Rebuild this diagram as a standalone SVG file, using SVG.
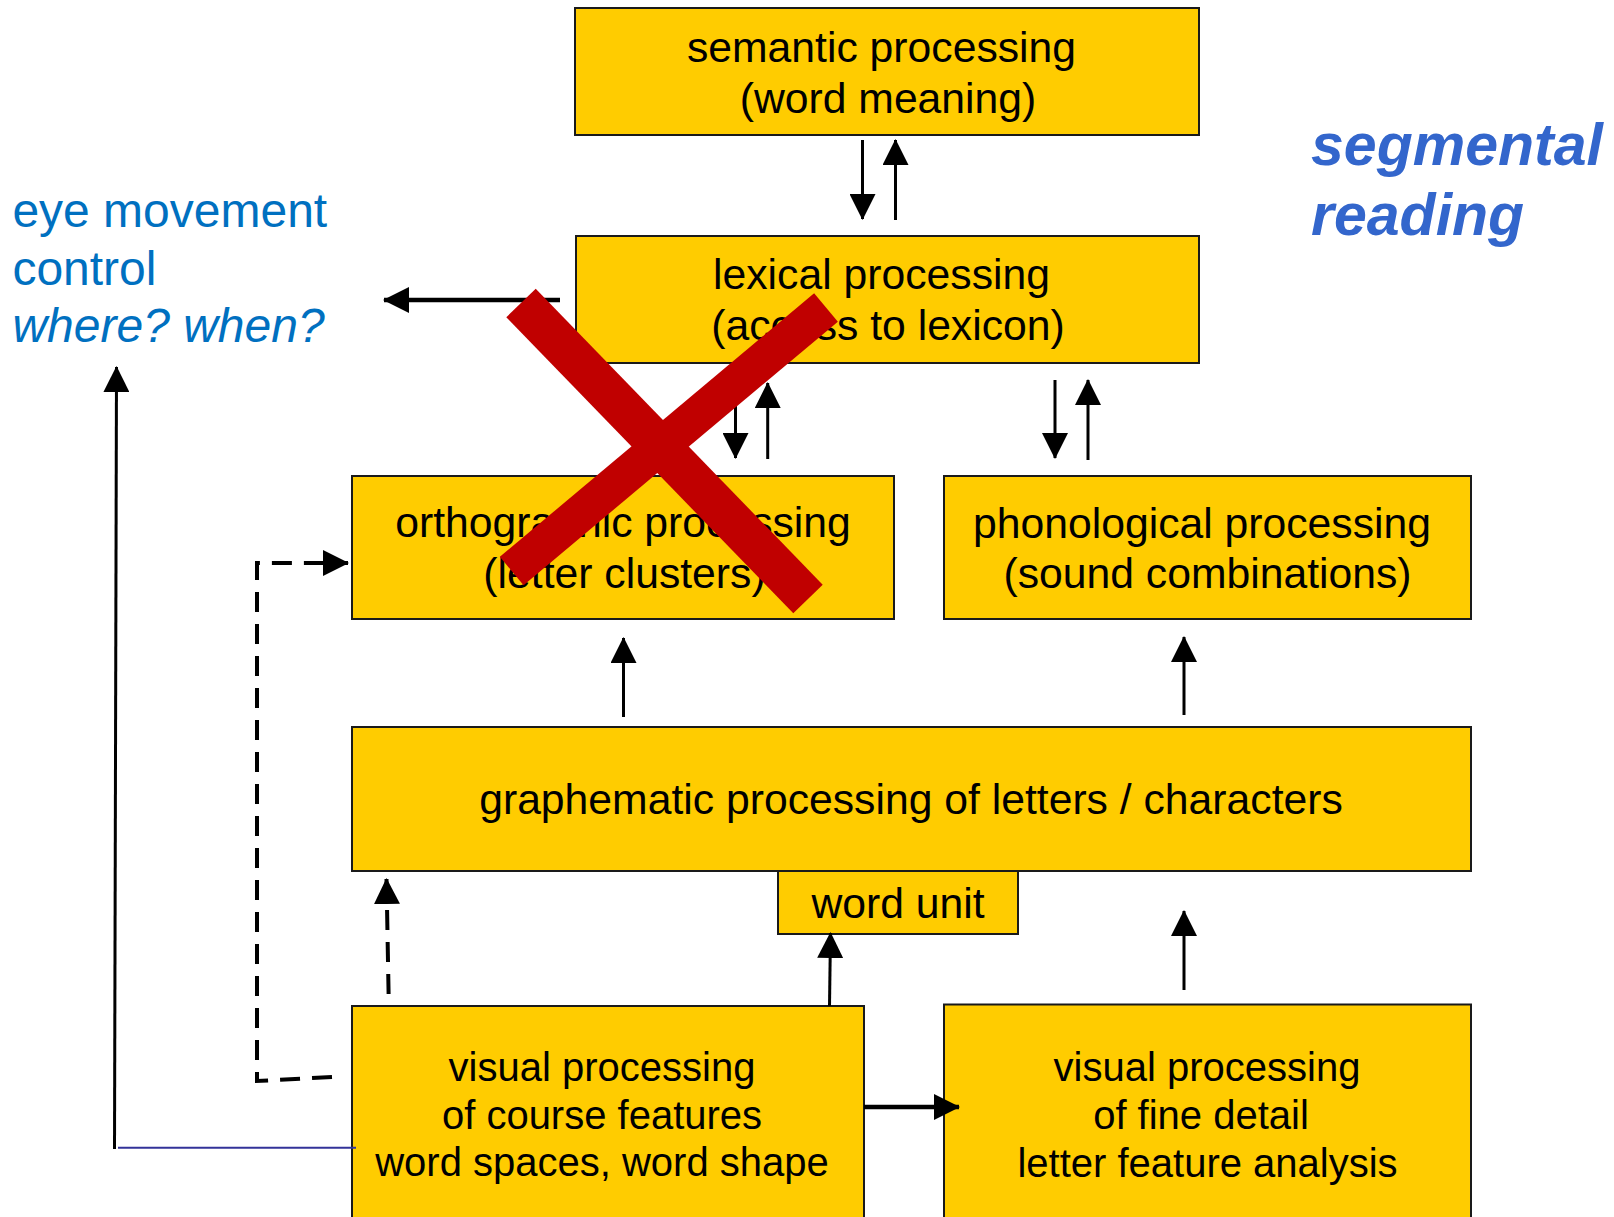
<svg xmlns="http://www.w3.org/2000/svg" width="1614" height="1217" viewBox="0 0 1614 1217">
<style>
.box{fill:#FFCC00;stroke:#1a1a1a;stroke-width:2}
.t{font-family:"Liberation Sans",Arial,sans-serif;font-size:42.7px;fill:#000;text-anchor:middle}
.v{font-size:40px}
.blue{font-family:"Liberation Sans",Arial,sans-serif;font-size:48px;fill:#0070C0}
.seg{font-family:"Liberation Sans",Arial,sans-serif;font-size:59px;font-weight:bold;font-style:italic;fill:#3366CC}
.c{fill:none;stroke:#000;stroke-width:3}
.thick{stroke-width:4.5}
.dash{stroke-width:4;stroke-dasharray:20 12}
.x{stroke:#C00000;fill:none}
</style>
<defs>
<marker id="ah" markerUnits="userSpaceOnUse" markerWidth="26" markerHeight="26" viewBox="0 0 26 26" refX="25" refY="13" orient="auto">
<path d="M0,0 L26,13 L0,26 Z" fill="#000"/>
</marker>
</defs>

<g id="semantic">
<rect class="box" x="575" y="8" width="624" height="127"/>
<text class="t" x="881.5" y="62">semantic processing</text>
<text class="t" x="888" y="113">(word meaning)</text>
</g>
<g id="lexical">
<rect class="box" x="576" y="236" width="623" height="127"/>
<text class="t" x="881.5" y="289">lexical processing</text>
<text class="t" x="888" y="340">(access to lexicon)</text>
</g>
<g id="orthographic">
<rect class="box" x="352" y="476" width="542" height="143"/>
<text class="t" x="623" y="537">orthographic processing</text>
<text class="t" x="624.5" y="588">(letter clusters)</text>
</g>
<g id="phonological">
<rect class="box" x="944" y="476" width="527" height="143"/>
<text class="t" x="1202" y="538">phonological processing</text>
<text class="t" x="1207.5" y="588">(sound combinations)</text>
</g>
<g id="graphematic">
<rect class="box" x="352" y="727" width="1119" height="144"/>
<text class="t" x="911" y="814">graphematic processing of letters / characters</text>
</g>
<g id="word-unit">
<rect class="box" x="778" y="871" width="240" height="63"/>
<text class="t" x="898" y="918">word unit</text>
</g>
<g id="visual-coarse">
<rect class="box" x="352" y="1006" width="512" height="230"/>
<text class="t v" x="602" y="1081">visual processing</text>
<text class="t v" x="602" y="1129">of course features</text>
<text class="t v" x="602" y="1176">word spaces, word shape</text>
</g>
<g id="visual-fine">
<rect class="box" x="944" y="1004.5" width="527" height="230"/>
<text class="t v" x="1207" y="1080.5">visual processing</text>
<text class="t v" x="1201" y="1129">of fine detail</text>
<text class="t v" x="1207.5" y="1177">letter feature analysis</text>
</g>

<g id="eye-movement-control">
<text class="blue" x="12.4" y="227">eye movement</text>
<text class="blue" x="12.4" y="285">control</text>
<text class="blue" x="12.4" y="342" font-style="italic">where? when?</text>
</g>
<g id="segmental-reading">
<text class="seg" x="1311" y="165">segmental</text>
<text class="seg" x="1311" y="235">reading</text>
</g>

<g id="connectors">
<path class="c" d="M862.5,140 V219" marker-end="url(#ah)"/>
<path class="c" d="M895.5,220 V140" marker-end="url(#ah)"/>
<path class="c thick" d="M560,300 H384" marker-end="url(#ah)"/>
<path class="c" d="M735.5,383 V458" marker-end="url(#ah)"/>
<path class="c" d="M767.7,459 V383" marker-end="url(#ah)"/>
<path class="c" d="M1055,380 V458" marker-end="url(#ah)"/>
<path class="c" d="M1088,460 V380" marker-end="url(#ah)"/>
<path class="c" d="M623.5,717 V638" marker-end="url(#ah)"/>
<path class="c" d="M1184,715 V637" marker-end="url(#ah)"/>
<path class="c" d="M1184,990 V911" marker-end="url(#ah)"/>
<path class="c" d="M829.5,1006 L830.5,933" marker-end="url(#ah)"/>
<path class="c thick" d="M864,1107 H959" marker-end="url(#ah)"/>
<path class="c dash" d="M332,1077 L257,1081 V563 H348" marker-end="url(#ah)"/>
<path class="c dash" d="M388.6,994 L386.5,879" marker-end="url(#ah)"/>
<path class="c" d="M114.5,1149 L116.5,367" marker-end="url(#ah)"/>
<path d="M118,1147.7 H356" fill="none" stroke="#333399" stroke-width="2"/>
</g>

<g id="cross">
<line class="x" x1="521" y1="303" x2="808" y2="599" stroke-width="41"/>
<line class="x" x1="826" y1="307.5" x2="511.7" y2="571" stroke-width="37"/>
</g>
</svg>
